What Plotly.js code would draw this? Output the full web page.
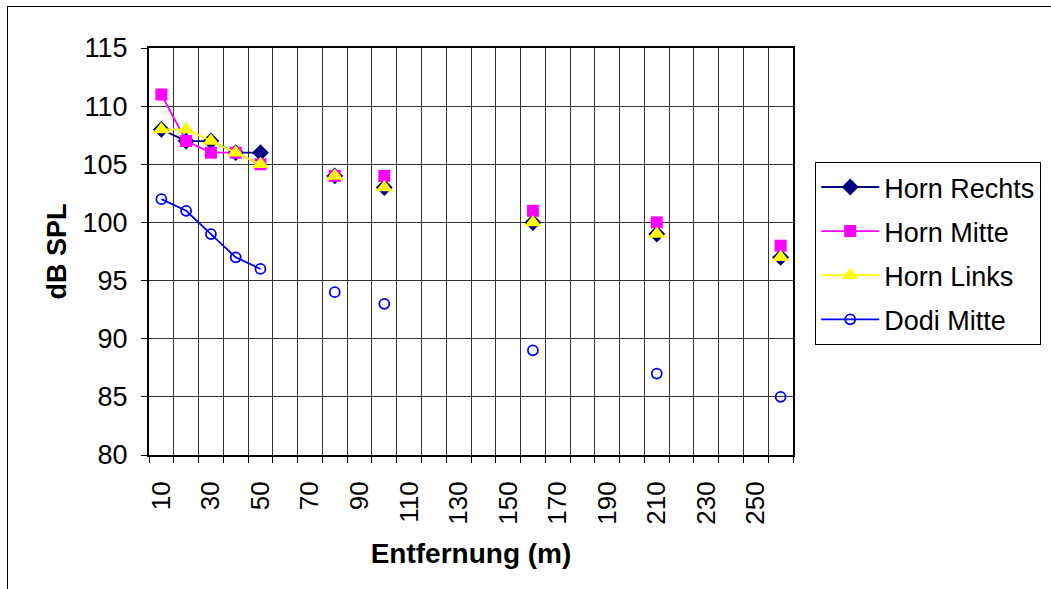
<!DOCTYPE html>
<html>
<head>
<meta charset="utf-8">
<script src="https://cdn.plot.ly/plotly-3.0.1.min.js"></script>
<style>
  html, body { margin: 0; padding: 0; background: #fff; }
  #wrap { position: relative; width: 1051px; height: 589px; overflow: hidden; }
  #chart { position: absolute; left: 0; top: 0; width: 1051px; height: 589px; }
  #frame { position: absolute; left: 7px; top: 6px; width: 1050px; height: 600px; border: 1px solid #000; pointer-events: none; }
</style>
</head>
<body>
<div id="wrap"><div id="chart"></div><div id="frame"></div></div>
<script>
// Distances (m) – category axis 10..260
const distances = [10,20,30,40,50,60,70,80,90,100,110,120,130,140,150,160,170,180,190,200,210,220,230,240,250,260];
const xTickLabels = [10,30,50,70,90,110,130,150,170,190,210,230,250];

// dB SPL values (null = not measured)
const hornRechts = [108,107,107,106,106,null,null,104,null,103,null,null,null,null,null,100,null,null,null,null,99,null,null,null,null,97];
const hornMitte  = [111,107,106,106,105,null,null,104,null,104,null,null,null,null,null,101,null,null,null,null,100,null,null,null,null,98];
const hornLinks  = [108,108,107,106,105,null,null,104,null,103,null,null,null,null,null,100,null,null,null,null,99,null,null,null,null,97];
const dodiMitte  = [102,101,99,97,96,null,null,94,null,93,null,null,null,null,null,89,null,null,null,null,87,null,null,null,null,85];

const seriesNames = ['Horn Rechts','Horn Mitte','Horn Links','Dodi Mitte'];

const FONT = 'Liberation Sans, Arial, sans-serif';

const traces = [
  {x: distances, y: hornRechts, name: seriesNames[0], legendgroup: 'a', mode: 'lines+markers', connectgaps: false,
   line: {color: '#000080', width: 1.8},
   marker: {symbol: 'diamond', size: 13, color: '#000080'}},
  {x: distances, y: hornMitte, name: seriesNames[1], legendgroup: 'b', mode: 'lines+markers', connectgaps: false,
   line: {color: '#FF00FF', width: 1.8},
   marker: {symbol: 'square', size: 12, color: '#FF00FF'}},
  {x: distances, y: hornLinks, name: seriesNames[2], legendgroup: 'c', mode: 'lines+markers', connectgaps: false,
   line: {color: '#FFFF00', width: 1.8},
   marker: {symbol: 'triangle-up', size: 15, color: '#FFFF00'}},
  {x: distances, y: dodiMitte, name: seriesNames[3], legendgroup: 'd', mode: 'lines+markers', connectgaps: false,
   line: {color: '#0000FF', width: 1.8},
   marker: {symbol: 'circle-open', size: 10, color: '#0000FF', line: {width: 1.8, color: '#0000FF'}}}
];

const layout = {
  width: 1051, height: 589,
  margin: {l: 149, r: 258, t: 48, b: 134, autoexpand: false},
  paper_bgcolor: '#fff', plot_bgcolor: '#fff',
  font: {family: FONT, size: 26, color: '#000'},
  showlegend: true,
  legend: {
    x: 1.0345, y: 0.72, xanchor: 'left', yanchor: 'top',
    bordercolor: '#000', borderwidth: 1, bgcolor: '#fff',
    font: {family: FONT, size: 27, color: '#000'},
    itemwidth: 58, tracegroupgap: 6
  },
  xaxis: {
    range: [5, 265],
    tickmode: 'array', tickvals: xTickLabels, ticktext: xTickLabels.map(String),
    tickangle: -90, ticks: '', showgrid: false, ticklabelstandoff: 14,
    tickfont: {family: FONT, size: 26, color: '#000'},
    showline: true, linecolor: '#000', linewidth: 2, mirror: true,
    zeroline: false,
    minor: {tick0: 5, dtick: 10, showgrid: true, gridcolor: '#333', gridwidth: 1,
            ticks: 'outside', ticklen: 6, tickcolor: '#000', tickwidth: 1},
    title: {text: 'Entfernung (m)', font: {family: FONT, size: 28, color: '#000', weight: 'bold'}, standoff: 20}
  },
  yaxis: {
    range: [80, 115], dtick: 5, tick0: 80,
    showgrid: true, gridcolor: '#333', gridwidth: 1,
    ticks: 'outside', ticklen: 6, tickcolor: '#000', ticklabelstandoff: 8,
    tickfont: {family: FONT, size: 27, color: '#000'},
    showline: true, linecolor: '#000', linewidth: 2, mirror: true,
    zeroline: false,
    title: {text: 'dB SPL', font: {family: FONT, size: 27, color: '#000', weight: 'bold'}, standoff: 8}
  }
};

Plotly.newPlot('chart', traces, layout, {displayModeBar: false, staticPlot: true});
</script>
</body>
</html>
